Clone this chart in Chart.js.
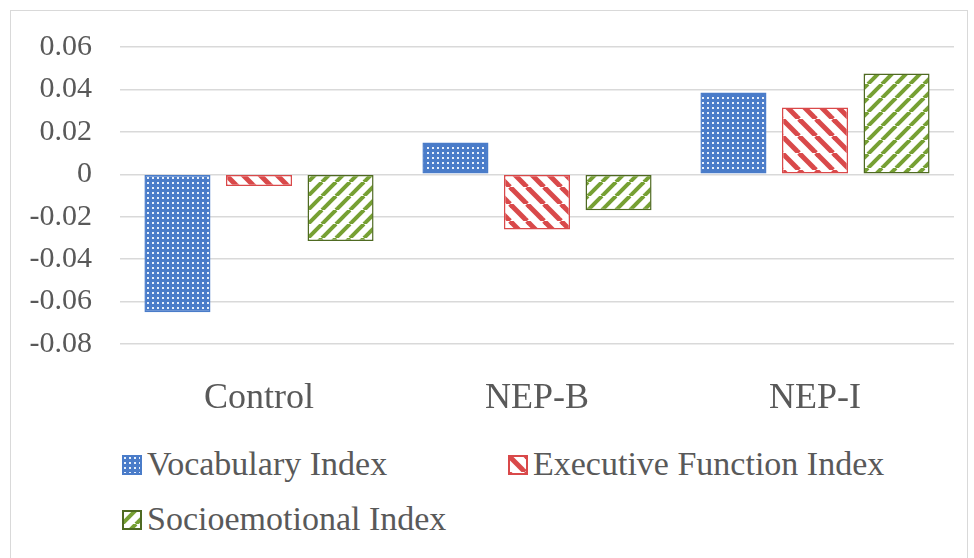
<!DOCTYPE html>
<html>
<head>
<meta charset="utf-8">
<script src="https://cdn.jsdelivr.net/npm/chart.js@4.4.0/dist/chart.umd.min.js"></script>
<style>
  body { margin: 0; background: #fff; }
  #frame { position: absolute; left: 10px; top: 10px; width: 958px; height: 560px; border: 1px solid #d9d9d9; box-sizing: border-box; }
  #wrap { position: absolute; left: 0; top: 0; width: 974px; height: 440px; }
  .legend { position: absolute; font-family: "Liberation Serif", serif; font-size: 34px; color: #595959; white-space: nowrap; }
  .legend canvas { vertical-align: baseline; margin-right: 5px; }
</style>
</head>
<body>
<div id="frame"></div>
<div id="wrap"><canvas id="chart"></canvas></div>
<div class="legend" style="left:122px; top:445px;"><canvas id="lg0" width="20" height="20"></canvas>Vocabulary Index</div>
<div class="legend" style="left:508px; top:445px;"><canvas id="lg1" width="20" height="20"></canvas>Executive Function Index</div>
<div class="legend" style="left:122px; top:500px;"><canvas id="lg2" width="20" height="20"></canvas>Socioemotional Index</div>
<script>
const categories = ['Control', 'NEP-B', 'NEP-I'];
const vocabulary = [-0.065, 0.015, 0.0385];
const executive = [-0.0055, -0.026, 0.0315];
const socioemotional = [-0.0315, -0.017, 0.0475];
const seriesNames = ['Vocabulary Index', 'Executive Function Index', 'Socioemotional Index'];
const yTicks = [-0.08, -0.06, -0.04, -0.02, 0, 0.02, 0.04, 0.06];
const serif = '"Liberation Serif", serif';

function dots() {
    const c = document.createElement('canvas');
    c.width = 5; c.height = 5;
    const x = c.getContext('2d');
    x.fillStyle = '#4a7cc9';
    x.fillRect(0, 0, 5, 5);
    x.fillStyle = '#e8f0fb';
    x.fillRect(2, 2, 2, 2);
    return x.createPattern(c, 'repeat');
}
function stripes(color, dir, s, w) {
    const c = document.createElement('canvas');
    c.width = s; c.height = s;
    const x = c.getContext('2d');
    x.fillStyle = '#fff';
    x.fillRect(0, 0, s, s);
    x.strokeStyle = color;
    x.lineWidth = w;
    for (let k = -1; k <= 1; k++) {
        x.beginPath();
        if (dir > 0) { x.moveTo(k * s, s); x.lineTo(k * s + s, 0); }
        else { x.moveTo(k * s, 0); x.lineTo(k * s + s, s); }
        x.stroke();
    }
    return x.createPattern(c, 'repeat');
}

const pats = [dots(), stripes('#d9494a', -1, 17, 5), stripes('#76a033', 1, 14, 4)];
const borders = ['#4a7cc9', '#d9494a', '#4f6a22'];

['lg0', 'lg1', 'lg2'].forEach((id, i) => {
    const ctx = document.getElementById(id).getContext('2d');
    ctx.fillStyle = pats[i];
    ctx.fillRect(0, 0, 20, 20);
    ctx.strokeStyle = borders[i];
    ctx.lineWidth = 2;
    ctx.strokeRect(1, 1, 18, 18);
});

new Chart(document.getElementById('chart'), {
    type: 'bar',
    data: {
        labels: categories,
        datasets: [vocabulary, executive, socioemotional].map((d, i) => ({
            label: seriesNames[i],
            data: d,
            backgroundColor: pats[i],
            borderColor: borders[i],
            borderWidth: 1.5,
            borderSkipped: false,
            barPercentage: 0.81,
            categoryPercentage: 0.88
        }))
    },
    options: {
        responsive: true,
        maintainAspectRatio: false,
        animation: false,
        layout: { padding: { left: 0, right: 20, top: 47, bottom: 0 } },
        plugins: { legend: { display: false }, tooltip: { enabled: false } },
        scales: {
            x: {
                grid: { display: false },
                border: { display: false },
                afterFit: s => { s.height = 96; },
                ticks: { color: '#595959', font: { family: serif, size: 36 }, padding: 25 }
            },
            y: {
                min: -0.08,
                max: 0.06,
                afterBuildTicks: axis => {
                    axis.ticks = yTicks.map(v => ({ value: v }));
                },
                afterFit: s => { s.width = 120; },
                grid: { color: '#d9d9d9', lineWidth: 1.5, drawTicks: false },
                border: { display: false },
                ticks: {
                    color: '#595959',
                    padding: 28,
                    font: { family: serif, size: 30 },
                    callback: v => v === 0 ? '0' : v.toFixed(2)
                }
            }
        }
    }
});
</script>
</body>
</html>
